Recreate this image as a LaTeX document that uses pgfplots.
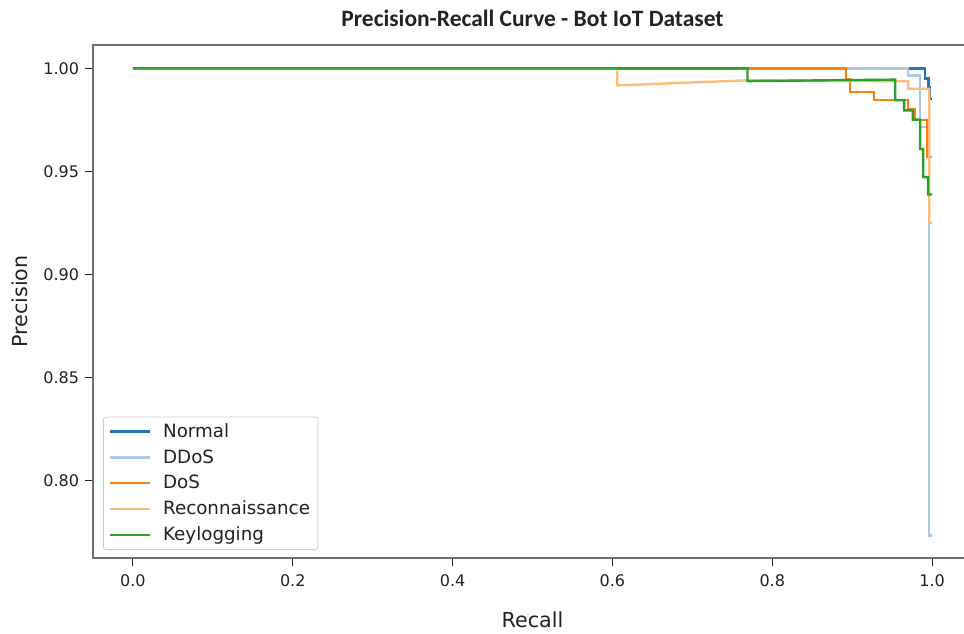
\documentclass[border=0pt]{standalone}
\usepackage{fontspec}
\setmainfont{DejaVu Sans}
\newfontfamily\titlefont{Carlito}
\usepackage{pgfplots}
\pgfplotsset{compat=1.18}
\definecolor{cNormal}{HTML}{1F77B4}
\definecolor{cDDoS}{HTML}{AEC7E8}
\definecolor{cDoS}{HTML}{FF7F0E}
\definecolor{cRecon}{HTML}{FFBB78}
\definecolor{cKey}{HTML}{2CA02C}
\definecolor{spine}{HTML}{6F6F6F}
\definecolor{ticktext}{HTML}{222222}
\begin{document}
\begin{tikzpicture}
\begin{axis}[
  at={(0,0)}, anchor=south west,
  scale only axis,
  width=659.25pt, height=384.75pt,
  xmin=-0.05, xmax=1.05, ymin=0.7625, ymax=1.0113,
  xtick={0,0.2,0.4,0.6,0.8,1.0},
  ytick={0.80,0.85,0.90,0.95,1.00},
  xticklabels={0.0,0.2,0.4,0.6,0.8,1.0},
  yticklabels={0.80,0.85,0.90,0.95,1.00},
  /pgf/number format/assume math mode=true,
  tick align=outside,
  major tick length=6pt,
  xtick pos=bottom, ytick pos=left,
  tick style={ticktext, line width=0.8pt},
  axis line style={spine, line width=1.4pt},
  ticklabel style={font=\fontsize{12}{14}\selectfont, text=ticktext},
  xticklabel style={yshift=-3pt},
  yticklabel style={xshift=-1pt},
  xlabel={Recall}, ylabel={Precision},
  every axis x label/.style={at={(rel axis cs:0.5,0)}, anchor=center, yshift=-46.5pt, font=\fontsize{15.5}{18}\selectfont, text=ticktext},
  every axis y label/.style={at={(rel axis cs:0,0.5)}, xshift=-54.75pt, rotate=90, anchor=center, font=\fontsize{15.5}{18}\selectfont, text=ticktext},
  legend cell align=left,
  legend image code/.code={\draw[#1] (0pt,0pt) -- (30pt,0pt);},
  legend style={at={(rel axis cs:0,0)}, anchor=south west, xshift=7.5pt, yshift=6pt,
    draw=black!20, rounded corners=2pt, line width=0.6pt,
    font=\fontsize{13.7}{16}\selectfont, text=ticktext,
    inner xsep=4pt, inner ysep=3pt, row sep=3.6pt, column sep=7pt},
  every axis plot/.append style={line width=1.8pt},
  clip=false,
]
\addplot[cNormal] coordinates {(0,1) (0.991,1) (0.991,0.995) (0.9955,0.995) (0.9955,0.9909) (0.997,0.9909) (0.997,0.985) (1.0,0.985)};
\addlegendentry{Normal}
\addplot[cDDoS] coordinates {(0,1) (0.970,1) (0.970,0.9966) (0.985,0.9966) (0.985,0.9715) (0.996,0.9715) (0.996,0.7735) (1.0,0.7735)};
\addlegendentry{DDoS}
\addplot[cDoS] coordinates {(0,1) (0.892,1) (0.892,0.9945) (0.897,0.9945) (0.897,0.9885) (0.927,0.9885) (0.927,0.9845) (0.970,0.9845) (0.970,0.980) (0.979,0.980) (0.979,0.9748) (0.994,0.9748) (0.994,0.957) (1.0,0.957)};
\addlegendentry{DoS}
\addplot[cRecon] coordinates {(0,1) (0.606,1) (0.606,0.9917) (0.770,0.9942) (0.970,0.9937) (0.970,0.9901) (0.9965,0.9901) (0.9965,0.925) (1.0,0.925)};
\addlegendentry{Reconnaissance}
\addplot[cKey] coordinates {(0,1) (0.769,1) (0.769,0.9938) (0.954,0.9945) (0.954,0.9845) (0.965,0.9845) (0.965,0.9796) (0.976,0.9796) (0.976,0.9751) (0.985,0.9751) (0.985,0.9608) (0.989,0.9608) (0.989,0.9472) (0.995,0.9472) (0.995,0.9388) (1.0,0.9388)};
\addlegendentry{Keylogging}
\node[font=\titlefont\bfseries\fontsize{17.6}{20}\selectfont, text=ticktext, anchor=center] at ([yshift=20.25pt]rel axis cs:0.5,1) {Precision-Recall Curve - Bot IoT Dataset};
\end{axis}
\pgfresetboundingbox
\path[use as bounding box] (-69.75pt,-56.25pt) rectangle (653.25pt,418.5pt);
\end{tikzpicture}
\end{document}
